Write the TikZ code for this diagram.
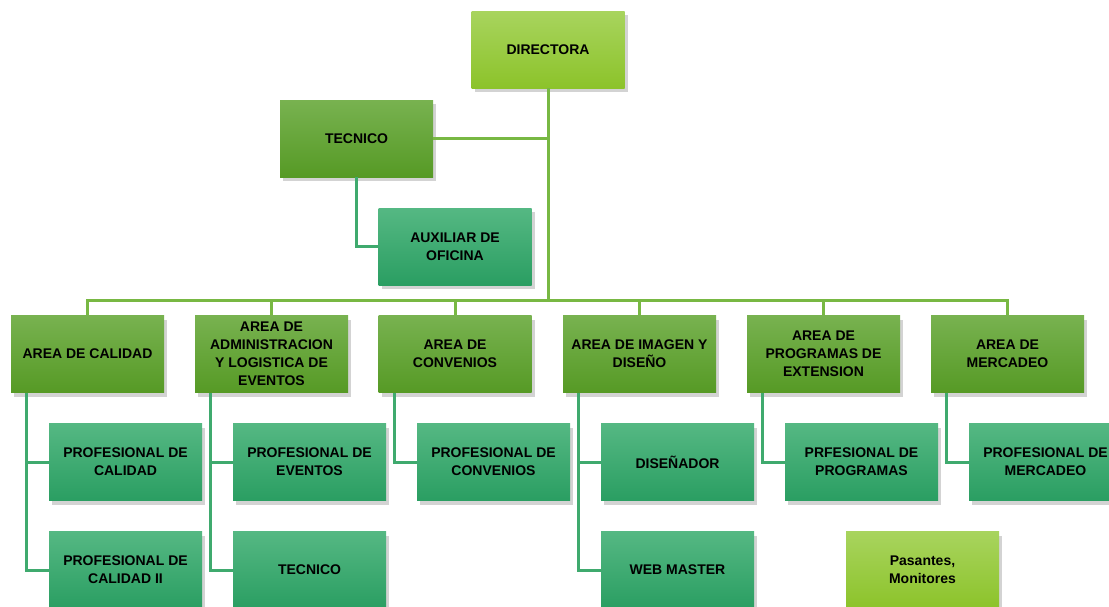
\documentclass[tikz,border=0pt]{standalone}
\usepackage{fontspec}
\setmainfont{Liberation Sans}
\usetikzlibrary{shadows}
\definecolor{limeT}{HTML}{A8D45E}
\definecolor{limeB}{HTML}{8CC32A}
\definecolor{midT}{HTML}{78B250}
\definecolor{midB}{HTML}{569A25}
\definecolor{tealT}{HTML}{55B883}
\definecolor{tealB}{HTML}{2A9E62}
\definecolor{busC}{HTML}{78B843}
\definecolor{subC}{HTML}{3FAA6E}
\tikzset{
  box/.style={minimum width=153pt, minimum height=77pt, align=center, inner sep=2pt,
    font=\fontsize{14}{18}\selectfont\bfseries,
    drop shadow={opacity=0.35, shadow xshift=3pt, shadow yshift=-4pt}},
  lime/.style={box, top color=limeT, bottom color=limeB},
  mid/.style={box, top color=midT, bottom color=midB},
  teal/.style={box, top color=tealT, bottom color=tealB},
  bus/.style={line width=3pt, draw=busC},
  sub/.style={line width=3pt, draw=subC},
}
\begin{document}
\begin{tikzpicture}[x=1pt,y=-1pt]
\useasboundingbox (0,0) rectangle (1109,606);
% connectors first
\coordinate (bj) at (548,300);
% nodes
\node[lime] (dir) at (548,49.5) {DIRECTORA};
\node[mid] (tec) at (356.5,138.5) {TECNICO};
\node[teal] (aux) at (455,246.5) {AUXILIAR DE\\OFICINA};
\node[mid] (a1) at (87.5,354) {AREA DE CALIDAD};
\node[mid] (a2) at (271.5,354) {AREA DE\\ADMINISTRACION\\Y LOGISTICA DE\\EVENTOS};
\node[mid] (a3) at (455,354) {AREA DE\\CONVENIOS};
\node[mid] (a4) at (639.5,354) {AREA DE IMAGEN Y\\DISEÑO};
\node[mid] (a5) at (823.5,354) {AREA DE\\PROGRAMAS DE\\EXTENSION};
\node[mid] (a6) at (1007.5,354) {AREA DE\\MERCADEO};
\node[teal] (p1a) at (125.5,462) {PROFESIONAL DE\\CALIDAD};
\node[teal] (p1b) at (125.5,570) {PROFESIONAL DE\\CALIDAD II};
\node[teal] (p2a) at (309.5,462) {PROFESIONAL DE\\EVENTOS};
\node[teal] (p2b) at (309.5,570) {TECNICO};
\node[teal] (p3a) at (493.5,462) {PROFESIONAL DE\\CONVENIOS};
\node[teal] (p4a) at (677.5,462) {DISEÑADOR};
\node[teal] (p4b) at (677.5,570) {WEB MASTER};
\node[teal] (p5a) at (861.5,462) {PRFESIONAL DE\\PROGRAMAS};
\node[teal] (p6a) at (1045.5,462) {PROFESIONAL DE\\MERCADEO};
\node[lime] (pas) at (922.5,570) {Pasantes,\\Monitores};
% top connectors
\begin{scope}[on background layer/.try]
\end{scope}
\draw[bus] (dir.south) -- (bj);
\draw[bus] (tec.east) -- (tec.east -| dir.south);
\draw[bus] (a1.north) -- (a1.north |- bj) -- (a6.north |- bj) -- (a6.north);
\foreach \a in {a2,a3,a4,a5} \draw[bus] (\a.north) -- (\a.north |- bj);
\draw[sub] (tec.south) |- (aux.west);
% sub connectors
\draw[sub] ([xshift=16pt]a1.south west) |- (p1b.west);
\draw[sub] ([xshift=16pt]a1.south west |- p1a.west) -- (p1a.west);
\draw[sub] ([xshift=16pt]a2.south west) |- (p2b.west);
\draw[sub] ([xshift=16pt]a2.south west |- p2a.west) -- (p2a.west);
\draw[sub] ([xshift=16pt]a3.south west) |- (p3a.west);
\draw[sub] ([xshift=16pt]a4.south west) |- (p4b.west);
\draw[sub] ([xshift=16pt]a4.south west |- p4a.west) -- (p4a.west);
\draw[sub] ([xshift=16pt]a5.south west) |- (p5a.west);
\draw[sub] ([xshift=16pt]a6.south west) |- (p6a.west);
\end{tikzpicture}
\end{document}
